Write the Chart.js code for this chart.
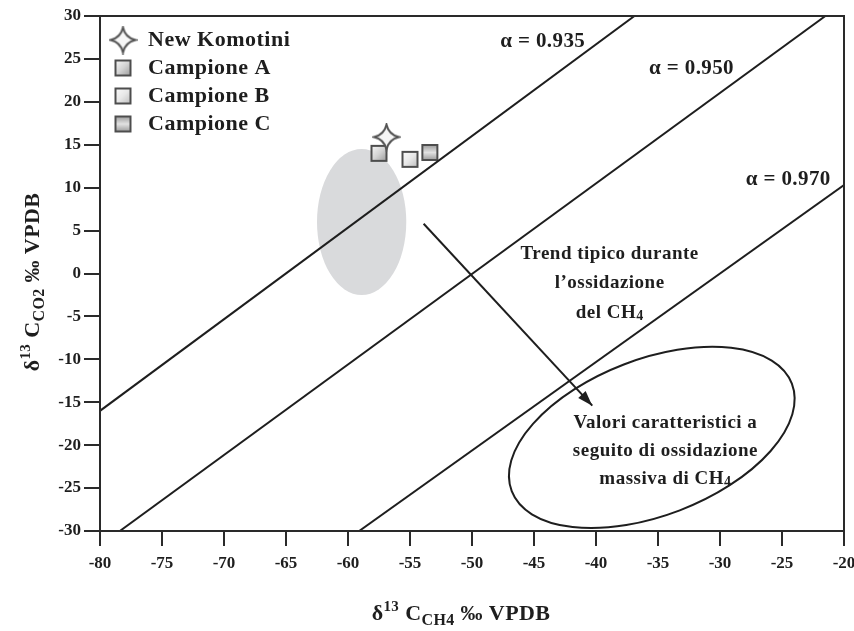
<!DOCTYPE html>
<html>
<head>
<meta charset="utf-8">
<script src="https://cdn.jsdelivr.net/npm/chart.js@4.4.0/dist/chart.umd.min.js"></script>
<style>
  html, body { margin: 0; background: #fff; }
  canvas { display: block; }
</style>
</head>
<body>
<canvas id="isoChart" width="854" height="631"></canvas>
<script>
// δ13C of CO2 vs δ13C of CH4, samples and fractionation lines
const komotini = [{ x: -56.9, y: 15.9 }];
const campioneA = [{ x: -57.5, y: 14.0 }];
const campioneB = [{ x: -55.0, y: 13.3 }];
const campioneC = [{ x: -53.4, y: 14.1 }];

const alphaLabels = ['α = 0.935', 'α = 0.950', 'α = 0.970'];
const alphaLines = [
    [{ x: -80, y: -16.0 }, { x: -36.9, y: 30 }],
    [{ x: -78.4, y: -30 }, { x: -21.5, y: 30 }],
    [{ x: -59.1, y: -30 }, { x: -20, y: 10.3 }]
];
const alphaLabelAt = [[-44.3, 27.0], [-32.3, 23.9], [-24.5, 10.9]];

const trendArrow = [{ x: -53.9, y: 5.8 }, { x: -40.3, y: -15.4 }];

// sample field (grey) and massive-oxidation field
const fieldCenter = [-58.9, 6.0];
const fieldRadii = [3.6, 8.5];
const oxidCenter = [-35.5, -19.1];
const oxidRadii = [12.1, 9.1];

const xTicks = { min: -80, max: -20, step: 5 };
const yTicks = { min: -30, max: 30, step: 5 };

const serif = '"Liberation Serif", "Times New Roman", serif';
const ink = '#1e1e1e';

// ---- marker images ----
function starImage(size) {
    const c = document.createElement('canvas');
    c.width = c.height = size;
    const g = c.getContext('2d');
    const m = size / 2, r = size / 2 - 2, k = r * 0.18;
    g.beginPath();
    g.moveTo(m, m - r);
    g.quadraticCurveTo(m + k, m - k, m + r, m);
    g.quadraticCurveTo(m + k, m + k, m, m + r);
    g.quadraticCurveTo(m - k, m + k, m - r, m);
    g.quadraticCurveTo(m - k, m - k, m, m - r);
    g.closePath();
    g.fillStyle = '#f6f6f6';
    g.fill();
    g.lineWidth = 2;
    g.strokeStyle = '#555';
    g.stroke();
    return c;
}

function squareImage(size, stops, vertical) {
    const c = document.createElement('canvas');
    c.width = c.height = size;
    const g = c.getContext('2d');
    const grad = vertical ? g.createLinearGradient(0, 0, 0, size) : g.createLinearGradient(0, 0, size, size);
    stops.forEach((col, i) => grad.addColorStop(i / (stops.length - 1), col));
    g.fillStyle = grad;
    g.fillRect(2, 2, size - 4, size - 4);
    g.lineWidth = 2;
    g.strokeStyle = '#4d4d4d';
    g.strokeRect(2, 2, size - 4, size - 4);
    return c;
}

const starImg = starImage(29);
const sqA = squareImage(19, ['#ffffff', '#d4d4d4', '#8e8e8e'], false);
const sqB = squareImage(19, ['#ffffff', '#e8e8e8', '#b4b4b4'], false);
const sqC = squareImage(19, ['#8a8a8a', '#e2e2e2', '#8a8a8a'], true);

// ---- rich text with super/subscripts: parts = [text, scale, dy] ----
function setFont(ctx, size, scale) {
    ctx.font = `bold ${Math.round(size * (scale || 1))}px ${serif}`;
}
function drawRich(ctx, parts, cx, cy, size, spacing) {
    ctx.letterSpacing = (spacing || 0) + 'px';
    let w = 0;
    parts.forEach(p => { setFont(ctx, size, p[1]); w += ctx.measureText(p[0]).width; });
    let x = cx - w / 2;
    ctx.textAlign = 'left';
    ctx.textBaseline = 'middle';
    parts.forEach(p => {
        setFont(ctx, size, p[1]);
        ctx.fillText(p[0], x, cy + (p[2] || 0));
        x += ctx.measureText(p[0]).width;
    });
    ctx.letterSpacing = '0px';
}

const trendText = [
    [['Trend tipico durante']],
    [['l\u2019ossidazione']],
    [['del CH'], ['4', 0.72, 4]]
];
const oxidText = [
    [['Valori caratteristici a']],
    [['seguito di ossidazione']],
    [['massiva di CH'], ['4', 0.72, 4]]
];
const xTitle = [['δ'], ['13', 0.68, -7], [' C'], ['CH4', 0.72, 7], [' ‰ VPDB']];
const yTitle = [['δ'], ['13', 0.68, -7], [' C'], ['CO2', 0.72, 7], [' ‰ VPDB']];

// ---- drawing plugin: fields, arrowhead, annotations, legend, frame ----
const overlay = {
    id: 'overlay',
    beforeDatasetsDraw(chart) {
        const { ctx, scales: { x, y } } = chart;
        const cx = x.getPixelForValue(fieldCenter[0]);
        const cy = y.getPixelForValue(fieldCenter[1]);
        const rx = Math.abs(x.getPixelForValue(fieldCenter[0] + fieldRadii[0]) - cx);
        const ry = Math.abs(y.getPixelForValue(fieldCenter[1] + fieldRadii[1]) - cy);
        ctx.save();
        ctx.fillStyle = '#d9dadc';
        ctx.beginPath();
        ctx.ellipse(cx, cy, rx, ry, 0, 0, Math.PI * 2);
        ctx.fill();
        ctx.restore();
    },
    afterDatasetsDraw(chart) {
        const { ctx, chartArea: a, scales: { x, y } } = chart;
        ctx.save();

        // oxidation field ellipse
        const ox = x.getPixelForValue(oxidCenter[0]);
        const oy = y.getPixelForValue(oxidCenter[1]);
        const orx = Math.abs(x.getPixelForValue(oxidCenter[0] + oxidRadii[0]) - ox);
        const ory = Math.abs(y.getPixelForValue(oxidCenter[1] + oxidRadii[1]) - oy);
        ctx.strokeStyle = ink;
        ctx.lineWidth = 2;
        ctx.beginPath();
        ctx.ellipse(ox, oy, orx, ory, -21 * Math.PI / 180, 0, Math.PI * 2);
        ctx.stroke();

        // arrowhead at the end of the trend line
        const x0 = x.getPixelForValue(trendArrow[0].x), y0 = y.getPixelForValue(trendArrow[0].y);
        const x1 = x.getPixelForValue(trendArrow[1].x), y1 = y.getPixelForValue(trendArrow[1].y);
        const ang = Math.atan2(y1 - y0, x1 - x0);
        ctx.fillStyle = ink;
        ctx.beginPath();
        ctx.moveTo(x1, y1);
        ctx.lineTo(x1 - 16 * Math.cos(ang - 0.32), y1 - 16 * Math.sin(ang - 0.32));
        ctx.lineTo(x1 - 16 * Math.cos(ang + 0.32), y1 - 16 * Math.sin(ang + 0.32));
        ctx.closePath();
        ctx.fill();

        // alpha labels
        alphaLabels.forEach((t, i) => {
            drawRich(ctx, [[t]], x.getPixelForValue(alphaLabelAt[i][0]), y.getPixelForValue(alphaLabelAt[i][1]), 21, 0.4);
        });

        // text blocks
        const tx = x.getPixelForValue(-38.9), ty = y.getPixelForValue(2.3);
        trendText.forEach((ln, i) => drawRich(ctx, ln, tx, ty + i * 29.5, 19, 0.5));
        const vx = x.getPixelForValue(-34.4), vy = y.getPixelForValue(-17.4);
        oxidText.forEach((ln, i) => drawRich(ctx, ln, vx, vy + i * 28, 19, 0.5));

        // legend
        const items = [
            ['New Komotini', starImg],
            ['Campione A', sqA],
            ['Campione B', sqB],
            ['Campione C', sqC]
        ];
        ctx.font = `bold 22px ${serif}`;
        ctx.letterSpacing = '0.5px';
        ctx.textAlign = 'left';
        ctx.textBaseline = 'middle';
        items.forEach((it, i) => {
            const ly = a.top + 24 + i * 28;
            const img = it[1];
            ctx.drawImage(img, a.left + 23 - img.width / 2, ly - img.height / 2);
            ctx.fillText(it[0], a.left + 48, ly);
        });
        ctx.letterSpacing = '0px';

        // frame
        ctx.lineWidth = 2;
        ctx.strokeStyle = '#2a2a2a';
        ctx.strokeRect(a.left, a.top, a.right - a.left, a.bottom - a.top);
        ctx.restore();
    },
    afterDraw(chart) {
        const { ctx } = chart;
        ctx.save();
        ctx.fillStyle = ink;
        drawRich(ctx, xTitle, 461, 614, 22, 0.4);
        ctx.translate(33, 282);
        ctx.rotate(-Math.PI / 2);
        drawRich(ctx, yTitle, 0, 0, 22, 0.4);
        ctx.restore();
    }
};

const lineStyle = { showLine: true, borderColor: ink, borderWidth: 2, pointRadius: 0, fill: false };

new Chart(document.getElementById('isoChart'), {
    type: 'scatter',
    data: {
        datasets: [
            ...alphaLines.map((pts, i) => ({ label: alphaLabels[i], data: pts, ...lineStyle })),
            { label: 'trend', data: trendArrow, ...lineStyle },
            { label: 'New Komotini', data: komotini, pointStyle: starImg },
            { label: 'Campione A', data: campioneA, pointStyle: sqA },
            { label: 'Campione B', data: campioneB, pointStyle: sqB },
            { label: 'Campione C', data: campioneC, pointStyle: sqC }
        ]
    },
    options: {
        responsive: false,
        animation: false,
        layout: { padding: { top: 16, right: 10, left: 0, bottom: 0 } },
        plugins: { legend: { display: false }, tooltip: { enabled: false } },
        scales: {
            x: {
                type: 'linear',
                min: xTicks.min, max: xTicks.max,
                ticks: { stepSize: xTicks.step, color: ink, font: { family: serif, size: 17, weight: 'bold' }, padding: 7 },
                grid: { drawOnChartArea: false, color: '#2a2a2a', lineWidth: 2, tickLength: 15 },
                border: { color: '#2a2a2a', width: 2 },
                afterFit(s) { s.height = 100; s.paddingLeft = 0; s.paddingRight = 0; }
            },
            y: {
                type: 'linear',
                min: yTicks.min, max: yTicks.max,
                ticks: { stepSize: yTicks.step, color: ink, font: { family: serif, size: 17, weight: 'bold' }, padding: 3 },
                grid: { drawOnChartArea: false, color: '#2a2a2a', lineWidth: 2, tickLength: 16 },
                border: { color: '#2a2a2a', width: 2 },
                afterFit(s) { s.width = 100; s.paddingTop = 0; s.paddingBottom = 0; }
            }
        }
    },
    plugins: [overlay]
});
</script>
</body>
</html>
